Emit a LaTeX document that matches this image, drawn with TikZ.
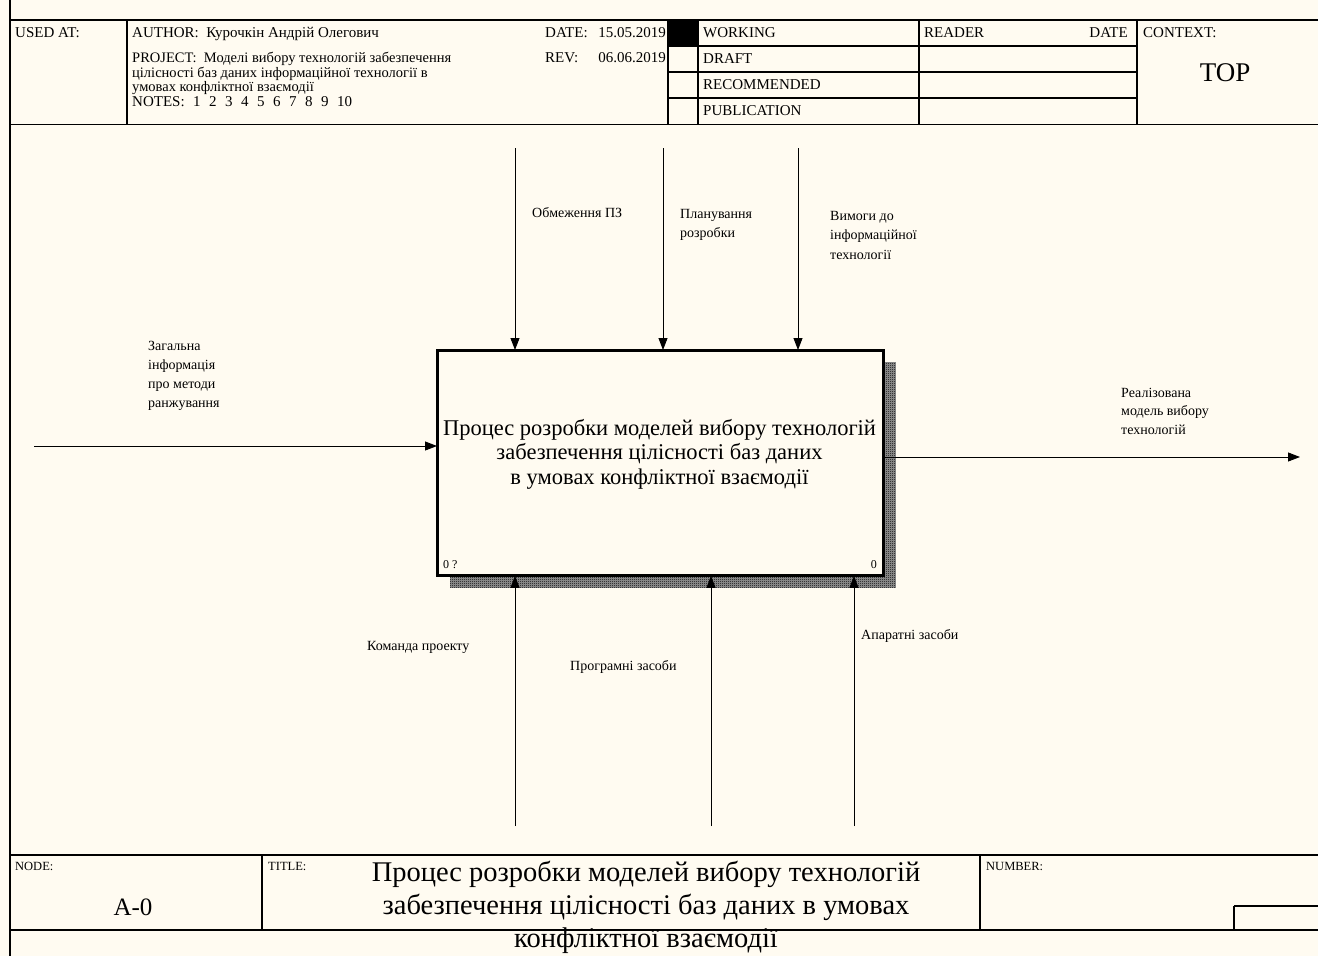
\documentclass[tikz,border=0pt]{standalone}
\usepackage{fontspec}
\setmainfont{Liberation Serif}
\usetikzlibrary{arrows.meta,patterns}
\definecolor{paper}{RGB}{255,251,241}
% fine 1pt checker used for the drop shadow of the activity box
\pgfdeclarepatternformonly{finechecker}{\pgfqpoint{0pt}{0pt}}{\pgfqpoint{2pt}{2pt}}{\pgfqpoint{2pt}{2pt}}{%
  \pgfpathrectangle{\pgfqpoint{0pt}{0pt}}{\pgfqpoint{1pt}{1pt}}%
  \pgfpathrectangle{\pgfqpoint{1pt}{1pt}}{\pgfqpoint{1pt}{1pt}}%
  \pgfusepath{fill}}
\newcommand\mlines[1]{\begin{tabular}[t]{@{}l@{}}#1\end{tabular}}
\newcommand\clines[1]{\begin{tabular}[t]{@{}c@{}}#1\end{tabular}}
\newcommand\fs[2]{\fontsize{#1}{#2}\selectfont}
\newcommand\nsp{\hspace{8.5pt}}
\begin{document}
\begin{tikzpicture}[x=1pt,y=-1pt,
  frame/.style={line width=1.3pt},
  cell/.style={line width=1.1pt},
  hdr/.style={anchor=base west, inner sep=0pt, font=\fs{15}{18}},
  hdre/.style={hdr, anchor=base east},
  small/.style={anchor=base west, inner sep=0pt, font=\fs{12.5}{14}},
  lbl/.style={anchor=base west, inner sep=0pt, font=\fs{14}{19.5}},
  arr/.style={line width=0.9pt, -{Triangle[length=12pt,width=9pt]}}]

\fill[paper] (0,0) rectangle (1318,956);
\useasboundingbox (0,0) rectangle (1318,956);

% ---------- header form ----------
\draw[frame] (10,0) -- (10,956);
\draw[frame] (10,20) -- (1318,20);
\draw[frame] (10,124.5) -- (1318,124.5);
\draw[cell] (127,20) -- (127,124.5);
\draw[cell] (668,20) -- (668,124.5);
\draw[cell] (698,20) -- (698,124.5);
\draw[cell] (919,20) -- (919,124.5);
\draw[cell] (1137,20) -- (1137,124.5);
\draw[cell] (668,46) -- (1137,46);
\draw[cell] (668,72) -- (1137,72);
\draw[cell] (668,98) -- (1137,98);
\fill (668,20) rectangle (698,46);

\node[hdr] (usedat) at (15,37) {USED AT:};
\node[hdr] (author) at (132,37) {AUTHOR:\ \ Курочкін Андрій Олегович};
\node[hdr, font=\fs{14.5}{17}] (proj1) at (132,62) {PROJECT:\ \ Моделі вибору технологій забезпечення};
\node[hdr, font=\fs{14.5}{17}] (proj2) at (132,77) {цілісності баз даних інформаційної технології в};
\node[hdr, font=\fs{14.5}{17}] (proj3) at (132,91.5) {умовах конфліктної взаємодії};
\node[hdr] (notes) at (132,106.5) {NOTES:\nsp 1\nsp 2\nsp 3\nsp 4\nsp 5\nsp 6\nsp 7\nsp 8\nsp 9\nsp 10};
\node[hdr] (datek) at (545,37) {DATE:};
\node[hdre] (datev) at (666,37) {15.05.2019};
\node[hdr] (revk) at (545,62.5) {REV:};
\node[hdre] (revv) at (666,62.5) {06.06.2019};
\node[hdr] (working) at (703,37) {WORKING};
\node[hdr] (draft) at (703,63) {DRAFT};
\node[hdr] (recom) at (703,89) {RECOMMENDED};
\node[hdr] (publ) at (703,115) {PUBLICATION};
\node[hdr] (reader) at (924,37) {READER};
\node[hdre] (rdate) at (1128,37) {DATE};
\node[hdr] (context) at (1143,37) {CONTEXT:};
\node[anchor=base, inner sep=0pt, font=\fs{27}{30}] (top) at (1225,81) {TOP};

% ---------- footer form ----------
\draw[frame] (10,855) -- (1318,855);
\draw[frame] (10,930) -- (1318,930);
\draw[cell] (262,855) -- (262,930);
\draw[cell] (980,855) -- (980,930);
\draw[cell] (1234,906) -- (1318,906);
\draw[cell] (1234,906) -- (1234,930);
\node[small] (nodek) at (15,870) {NODE:};
\node[small] (titlek) at (268,870) {TITLE:};
\node[small] (numberk) at (986,870) {NUMBER:};
\node[anchor=base, inner sep=0pt, font=\fs{25}{28}] (nodeid) at (133,915) {A-0};
\node[anchor=base, inner sep=0pt, font=\fs{28.5}{33}] (title) at (646,881)
  {\clines{Процес розробки моделей вибору технологій\\забезпечення цілісності баз даних в умовах\\конфліктної взаємодії}};

% ---------- activity box ----------
\coordinate (boxnw) at (437,350);
\node[draw, line width=1.8pt, minimum width=445pt, minimum height=224pt,
      anchor=north west, inner sep=0pt] (box) at (boxnw) {};
\path[fill=black!40, postaction={pattern=finechecker, pattern color=black}]
  ([yshift=-12pt]box.north east) -- ([xshift=12pt,yshift=-12pt]box.north east)
  -- ([xshift=12pt,yshift=-12pt]box.south east) -- ([xshift=13pt,yshift=-12pt]box.south west)
  -- ([xshift=13pt]box.south west) -- (box.south east) -- cycle;
\draw[line width=1.8pt] (box.north west) rectangle (box.south east);
\node[anchor=base, inner sep=0pt, font=\fs{22.5}{24.5}] (boxtext) at (659.5,435)
  {\clines{Процес розробки моделей вибору технологій\\забезпечення цілісності баз даних\\в умовах конфліктної взаємодії}};
\node[anchor=base west, inner sep=0pt, font=\fs{12}{14}] (boxcost) at (443,568) {0 ?};
\node[anchor=base east, inner sep=0pt, font=\fs{12}{14}] (boxnum) at (877,568) {0};

% ---------- controls ----------
\coordinate (ctl1) at (515,148);
\coordinate (ctl2) at (663,148);
\coordinate (ctl3) at (798,148);
\draw[arr] (ctl1) -- (ctl1 |- box.north);
\draw[arr] (ctl2) -- (ctl2 |- box.north);
\draw[arr] (ctl3) -- (ctl3 |- box.north);
\node[lbl] (ctl1lbl) at (532,217) {Обмеження ПЗ};
\node[lbl] (ctl2lbl) at (680,218) {\mlines{Планування\\розробки}};
\node[lbl] (ctl3lbl) at (830,220) {\mlines{Вимоги до\\інформаційної\\технології}};

% ---------- input ----------
\coordinate (inp) at (34,446);
\draw[arr] (inp) -- (inp -| box.west);
\node[lbl, font=\fs{14}{19}] (inplbl) at (148,350) {\mlines{Загальна\\інформація\\про методи\\ранжування}};

% ---------- output ----------
\coordinate (outp) at (1300,457);
\draw[arr] (outp -| box.east) -- (outp);
\node[lbl, font=\fs{14}{18.5}] (outlbl) at (1121,397) {\mlines{Реалізована\\модель вибору\\технологій}};

% ---------- mechanisms ----------
\coordinate (mec1) at (515,826);
\coordinate (mec2) at (711,826);
\coordinate (mec3) at (854,826);
\draw[arr] (mec1) -- (mec1 |- box.south);
\draw[arr] (mec2) -- (mec2 |- box.south);
\draw[arr] (mec3) -- (mec3 |- box.south);
\node[lbl] (mec1lbl) at (367,650) {Команда проекту};
\node[lbl] (mec2lbl) at (570,670) {Програмні засоби};
\node[lbl] (mec3lbl) at (861,639) {Апаратні засоби};
\end{tikzpicture}
\end{document}
